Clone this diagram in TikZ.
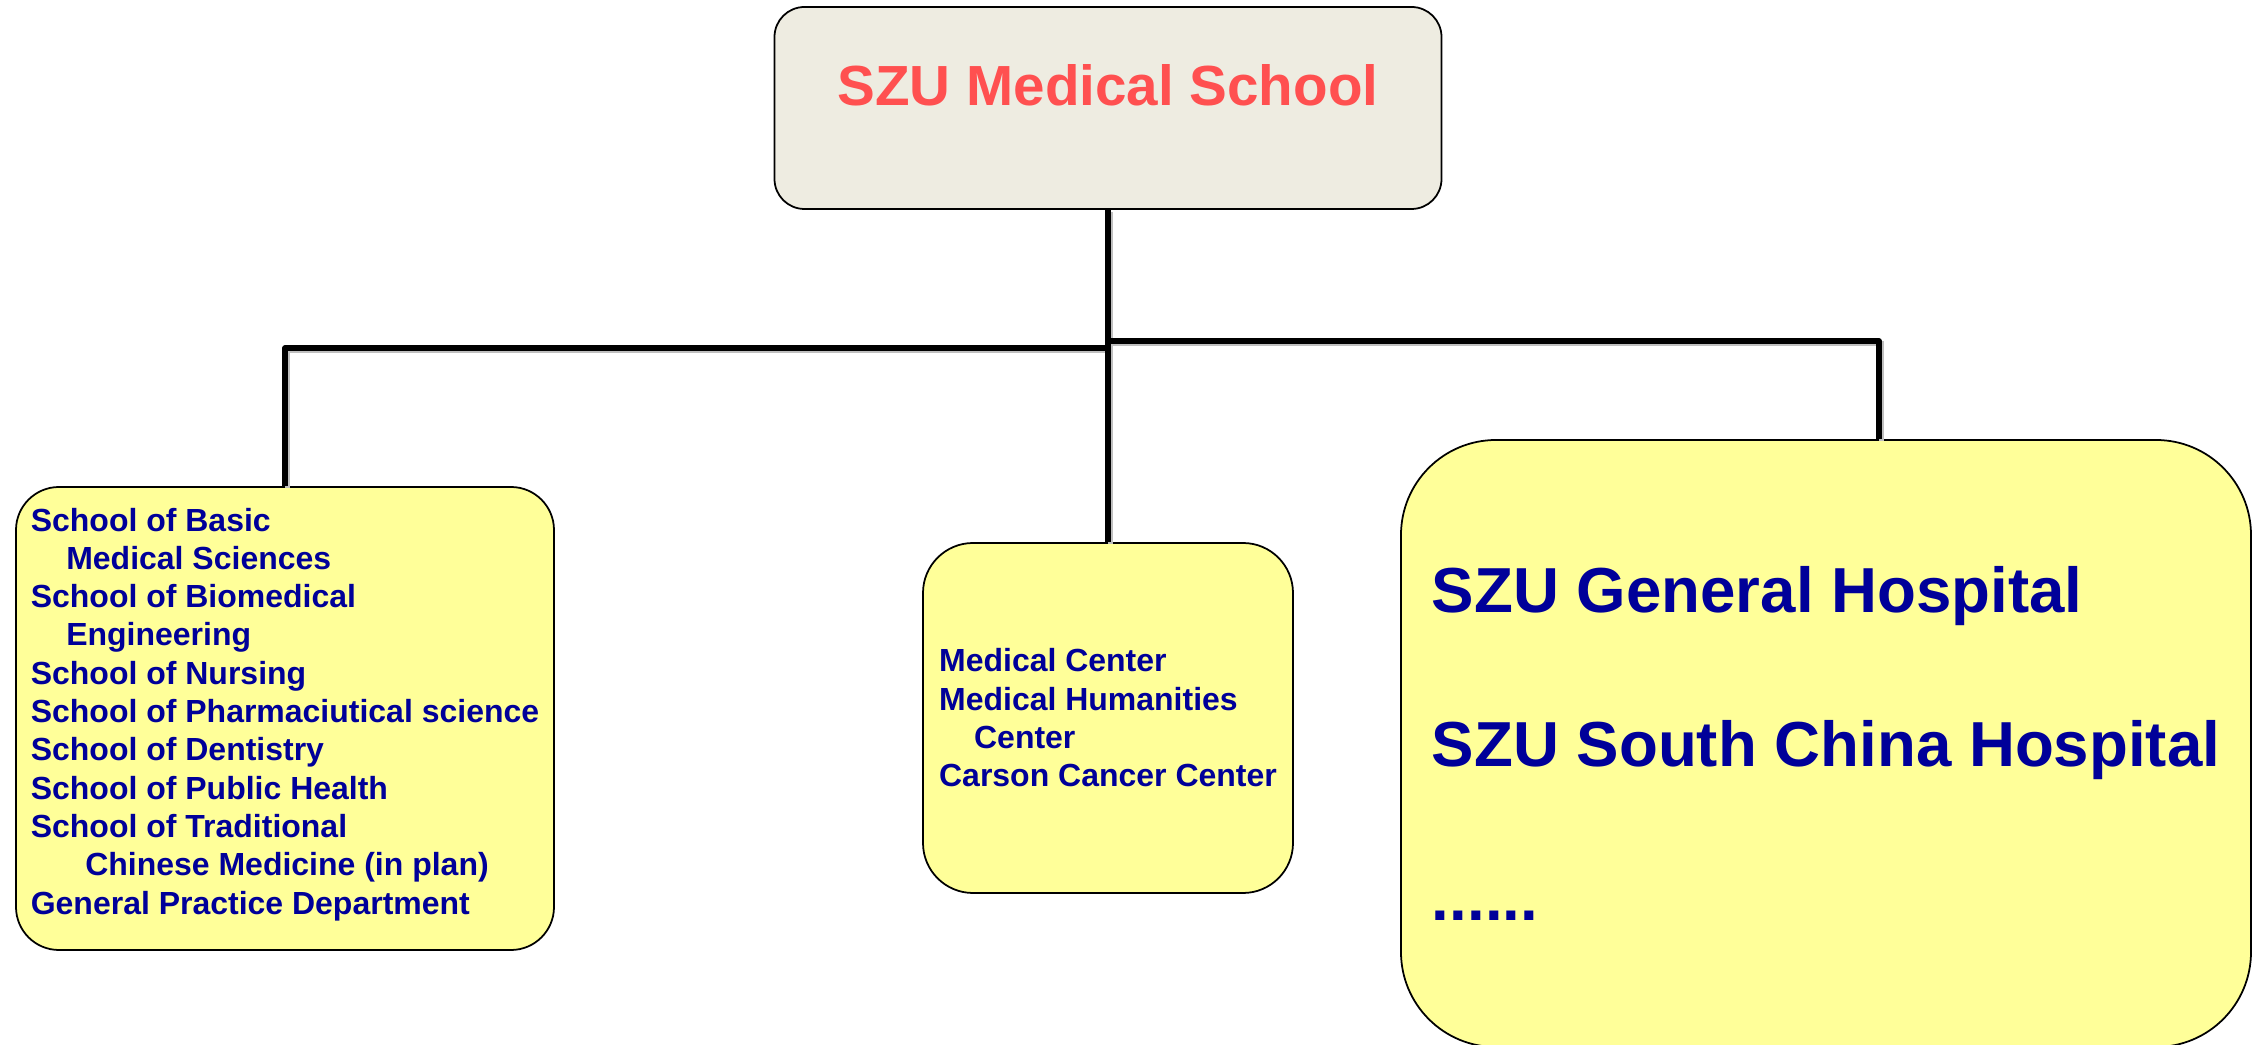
\documentclass[tikz,border=0pt]{standalone}
\usepackage{fontspec}
\setmainfont{Liberation Sans}
\usepackage{tikz}
\definecolor{szured}{RGB}{255,80,80}
\definecolor{szublue}{RGB}{0,0,153}
\definecolor{headfill}{RGB}{238,236,225}
\definecolor{unitfill}{RGB}{255,255,153}
\tikzset{
x=1mm, y=1mm, % one unit is ten pixels of the reference
head/.style={draw, line width=0.5pt, fill=headfill, rounded corners=3mm, inner sep=0pt,
  minimum width=66.7mm, minimum height=20.2mm, text=szured,
  font=\fontsize{16.1pt}{19pt}\selectfont\bfseries,
  text height=4mm, text depth=4.4mm}, % lifts the title a little
unit/.style={draw, line width=0.5pt, fill=unitfill, rounded corners=#1, inner sep=0pt,
  align=left, text=szublue}, % the three yellow boxes
small/.style={font=\fontsize{9.1pt}{10.9pt}\selectfont\bfseries}, % text of the left and middle box
big/.style={font=\fontsize{18.1pt}{43.7pt}\selectfont\bfseries}, % text of the right box
link/.style={line width=1.5pt, line join=round, preaction={draw=black!25, line width=1.5pt,
  transform canvas={shift={(0.22mm,-0.22mm)}}}}, % connectors with a soft shadow
}

\begin{document}
\begin{tikzpicture}
    \useasboundingbox (0,0) rectangle (225.7,104.5);
    \node[head] (szu) at (110.8,93.7) {SZU Medical School};
    \node[unit=4.3mm, small, minimum width=53.8mm, minimum height=46.3mm] (schools) at (28.5,32.65)
      {School of Basic\\
       \hspace*{3.55mm}Medical Sciences\\
       School of Biomedical\\
       \hspace*{3.55mm}Engineering\\
       School of Nursing\\
       School of Pharmaciutical science\\
       School of Dentistry\\
       School of Public Health\\
       School of Traditional\\
       \hspace*{5.45mm}Chinese Medicine (in plan)\\
       General Practice Department\rule[-1.5mm]{0pt}{1mm}};
    \node[unit=5mm, small, minimum width=37mm, minimum height=35mm] (centers) at (110.8,32.7)
      {Medical Center\\
       Medical Humanities\\
       \hspace*{3.5mm}Center\\
       Carson Cancer Center};
    \node[unit=9.5mm, big, minimum width=85mm, minimum height=60.7mm] (hosp) at (182.6,30.15)
      {SZU General Hospital\\
       SZU South China Hospital\\
       ......};
    \coordinate (lsplit) at (110.8,69.7);
    \coordinate (rsplit) at (110.8,70.4);
    \draw[link] (szu.south) -- (centers.north)
      (lsplit) -| (schools.north)
      (rsplit) -| ([xshift=5.3mm]hosp.north);
\end{tikzpicture}
\end{document}
